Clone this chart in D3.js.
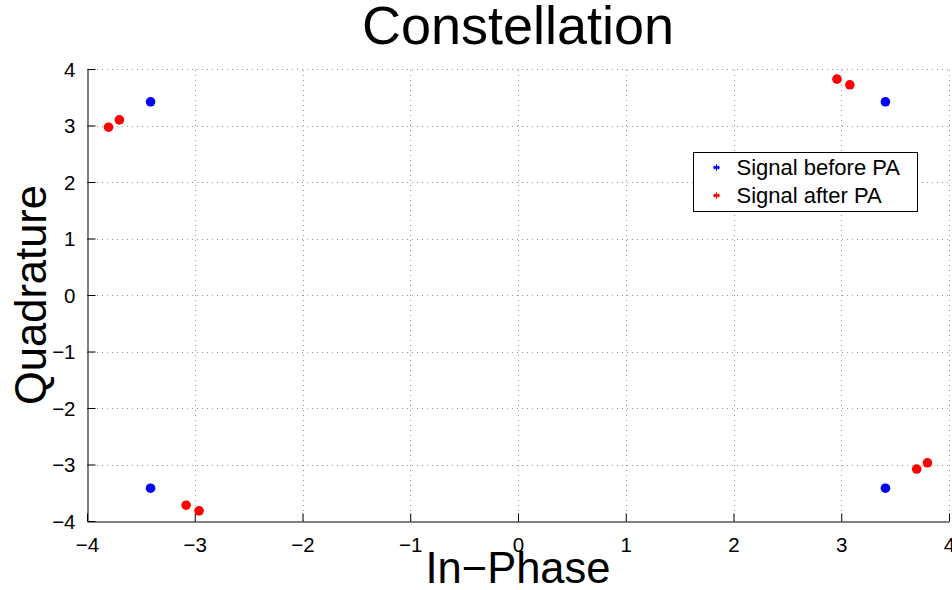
<!DOCTYPE html>
<html>
<head>
<meta charset="utf-8">
<script src="https://cdn.jsdelivr.net/npm/d3@7"></script>
<style>
  body { margin: 0; background: #fff; }
  text { font-family: 'Liberation Sans', Arial, sans-serif; }
</style>
</head>
<body>
<div id="chart"></div>
<script>
// constellation points, before and after the PA
const beforePA = [
  { i: -3.41, q: 3.42 },
  { i: 3.41, q: 3.42 },
  { i: -3.41, q: -3.42 },
  { i: 3.41, q: -3.42 }
];
const afterPA = [
  { i: -3.80, q: 2.97 },
  { i: -3.70, q: 3.10 },
  { i: 2.96, q: 3.82 },
  { i: 3.08, q: 3.72 },
  { i: -3.08, q: -3.72 },
  { i: -2.96, q: -3.82 },
  { i: 3.70, q: -3.08 },
  { i: 3.80, q: -2.97 }
];
const tickValues = [-4, -3, -2, -1, 0, 1, 2, 3, 4];
const seriesNames = ['Signal before PA', 'Signal after PA'];
const seriesColors = ['#0000ff', '#ff0000'];

const WIDTH = 952;
const HEIGHT = 590;
const margin = { top: 69, right: 3, bottom: 69, left: 87 };

const svg = d3.select('#chart')
  .append('svg')
  .attr('width', WIDTH)
  .attr('height', HEIGHT);

const x = d3.scaleLinear().domain([-4, 4]).range([margin.left, WIDTH - margin.right]);
const y = d3.scaleLinear().domain([-4, 4]).range([HEIGHT - margin.bottom, margin.top]);

// dotted grid
const grid = svg.append('g')
  .attr('stroke', '#999')
  .attr('stroke-width', 1)
  .attr('stroke-dasharray', '1,4');
grid.selectAll('.gx')
  .data(tickValues.filter((d) => d !== -4))
  .enter()
  .append('line')
  .attr('x1', (d) => Math.round(x(d)) + 0.5)
  .attr('x2', (d) => Math.round(x(d)) + 0.5)
  .attr('y1', y(-4))
  .attr('y2', y(4));
grid.selectAll('.gy')
  .data(tickValues.filter((d) => d !== -4))
  .enter()
  .append('line')
  .attr('y1', (d) => Math.round(y(d)) + 0.5)
  .attr('y2', (d) => Math.round(y(d)) + 0.5)
  .attr('x1', x(-4))
  .attr('x2', x(4));

// axes with inward ticks
const xAxis = svg.append('g')
  .attr('transform', `translate(0,${Math.round(y(-4)) + 0.5})`)
  .call(d3.axisBottom(x).tickValues(tickValues).tickSizeInner(-8).tickSizeOuter(0).tickPadding(16));
const yAxis = svg.append('g')
  .attr('transform', `translate(${Math.round(x(-4)) + 0.5},0)`)
  .call(d3.axisLeft(y).tickValues(tickValues).tickSizeInner(-8).tickSizeOuter(0).tickPadding(12));

[xAxis, yAxis].forEach((ax) => {
  ax.selectAll('.domain').attr('stroke', '#000');
  ax.selectAll('.tick line').attr('stroke', '#000');
  ax.selectAll('.tick text')
    .attr('fill', '#000')
    .attr('font-size', 20.5)
    .attr('font-family', "'Liberation Sans', Arial, sans-serif");
});
yAxis.selectAll('.tick text').attr('dy', '0.36em');

// points
svg.append('g')
  .selectAll('circle')
  .data(beforePA)
  .enter()
  .append('circle')
  .attr('cx', (d) => x(d.i))
  .attr('cy', (d) => y(d.q))
  .attr('r', 4.8)
  .attr('fill', seriesColors[0]);

svg.append('g')
  .selectAll('circle')
  .data(afterPA)
  .enter()
  .append('circle')
  .attr('cx', (d) => x(d.i))
  .attr('cy', (d) => y(d.q))
  .attr('r', 4.8)
  .attr('fill', seriesColors[1]);

// title and axis labels
svg.append('text')
  .attr('x', x(0))
  .attr('y', 44)
  .attr('text-anchor', 'middle')
  .attr('font-size', 54)
  .text('Constellation');

svg.append('text')
  .attr('x', x(0))
  .attr('y', 583)
  .attr('text-anchor', 'middle')
  .attr('font-size', 43.5)
  .text('In\u2212Phase');

svg.append('text')
  .attr('transform', `translate(46,${y(0)}) rotate(-90)`)
  .attr('text-anchor', 'middle')
  .attr('font-size', 43.5)
  .text('Quadrature');

// legend
const legend = svg.append('g').attr('transform', 'translate(693.5,152.5)');
legend.append('rect')
  .attr('width', 224)
  .attr('height', 59)
  .attr('fill', '#fff')
  .attr('stroke', '#000');

const rows = legend.selectAll('g.row')
  .data(seriesNames)
  .enter()
  .append('g')
  .attr('transform', (d, k) => `translate(0,${15 + k * 28})`);

rows.each(function (d, k) {
  const g = d3.select(this);
  const s = 3.2;
  const cx = 23;
  [0, 60, 120].forEach((a) => {
    const r = (a * Math.PI) / 180;
    g.append('line')
      .attr('x1', cx - s * Math.sin(r))
      .attr('y1', -s * Math.cos(r))
      .attr('x2', cx + s * Math.sin(r))
      .attr('y2', s * Math.cos(r))
      .attr('stroke', seriesColors[k])
      .attr('stroke-width', 1.2);
  });
  g.append('line')
    .attr('x1', cx - s).attr('x2', cx + s)
    .attr('y1', 0).attr('y2', 0)
    .attr('stroke', seriesColors[k])
    .attr('stroke-width', 1.2);
  g.append('text')
    .attr('x', 43)
    .attr('y', 0)
    .attr('dy', '0.36em')
    .attr('font-size', 22)
    .text(d);
});
</script>
</body>
</html>
